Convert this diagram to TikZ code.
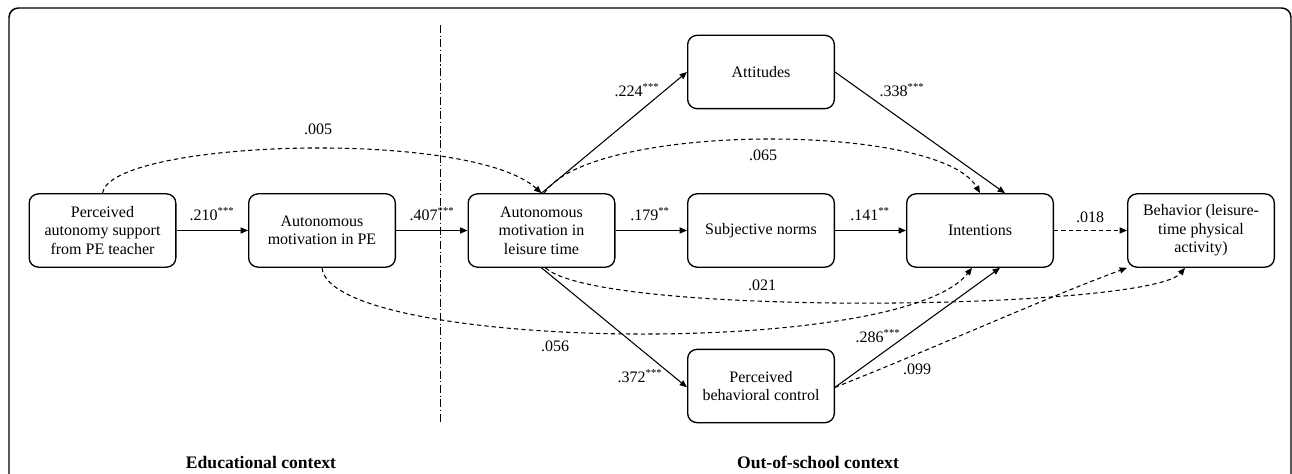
\documentclass[tikz,border=0pt]{standalone}
\usepackage{fontspec}
\setmainfont{Liberation Serif}
\usetikzlibrary{arrows.meta}
\begin{document}
\begin{tikzpicture}[x=0.75pt,y=-0.75pt,
  font=\fontsize{12}{13.9}\selectfont,
  box/.style={draw,line width=1pt,rounded corners=7pt,minimum width=110pt,minimum height=55pt,align=center,inner sep=2pt},
  edge/.style={line width=0.8pt,-{Triangle[length=5.5pt,width=4.5pt]}},
  dedge/.style={edge,dash pattern=on 3.2pt off 2.4pt},
  lbl/.style={inner sep=0pt},
  ctx/.style={font=\fontsize{13.2}{15}\selectfont\bfseries,anchor=base}]
\useasboundingbox (0,0) rectangle (1292,474);
\draw[line width=1.1pt,rounded corners=7pt] (9,8) -- (1291,8) -- (1291,520) -- (9,520) -- cycle;
% divider
\coordinate (d1) at (440,25);
\coordinate (d2) at (440,423);
\draw[line width=0.7pt,dash pattern=on 6pt off 2pt on 0.8pt off 2pt] (d1) -- (d2);
% boxes
\node[box] (A) at (102.5,230.5) {Perceived\\autonomy support\\from PE teacher};
\node[box] (B) at (322,230.5) {Autonomous\\motivation in PE};
\node[box] (C) at (541.5,230.5) {Autonomous\\motivation in\\leisure time};
\node[box] (Att) at (761,72) {Attitudes};
\node[box] (SN) at (761,230.5) {Subjective norms};
\node[box] (PBC) at (761,386) {Perceived\\behavioral control};
\node[box] (Int) at (980,230.5) {Intentions};
\node[box] (Beh) at (1201,230.5) {Behavior (leisure-\\time physical\\activity)};
% solid edges
\draw[edge] (A) -- (B);
\draw[edge] (B) -- (C);
\draw[edge] (C) -- (SN);
\draw[edge] (SN) -- (Int);
\draw[edge] (C.north) -- (Att.west);
\draw[edge] (Att.east) -- ([xshift=18.75pt]Int.north);
\draw[edge] (C.south) -- ([yshift=-1pt]PBC.west);
\draw[edge] ([yshift=-1pt]PBC.east) -- ([xshift=15pt]Int.south);
% dashed edges
\draw[dedge] (Int) -- (Beh);
\draw[dedge] (A.north) .. controls (110,140) and (470,128) .. (C.north);
\draw[dedge] ([xshift=2pt]C.north) .. controls (590,122) and (940,122) .. (Int.north);
\draw[dedge] ([xshift=3pt]C.south) .. controls (600,318) and (1150,310) .. ([xshift=-12pt]Beh.south);
\draw[dedge] (B.south) .. controls (330,350) and (900,360) .. ([xshift=-6pt]Int.south);
\draw[dedge] ([yshift=-1pt]PBC.east) .. controls (930,350) and (1040,300) .. (Beh.south west);
% labels
\node[lbl] (l005) at (318,129) {.005};
\node[lbl] (l210) at (212,214) {.210\textsuperscript{***}};
\node[lbl] (l407) at (432,214) {.407\textsuperscript{***}};
\node[lbl] (l224) at (637,90) {.224\textsuperscript{***}};
\node[lbl] (l179) at (650,214) {.179\textsuperscript{**}};
\node[lbl] (l338) at (902,90) {.338\textsuperscript{***}};
\node[lbl] (l065) at (763,155) {.065};
\node[lbl] (l141) at (870,214) {.141\textsuperscript{**}};
\node[lbl] (l018) at (1090,217) {.018};
\node[lbl] (l021) at (762,285) {.021};
\node[lbl] (l056) at (555,346) {.056};
\node[lbl] (l372) at (640,376) {.372\textsuperscript{***}};
\node[lbl] (l286) at (878,336) {.286\textsuperscript{***}};
\node[lbl] (l099) at (917,369) {.099};
\node[ctx] (edu) at (261,468) {Educational context};
\node[ctx] (out) at (818,468) {Out-of-school context};
\end{tikzpicture}
\end{document}
